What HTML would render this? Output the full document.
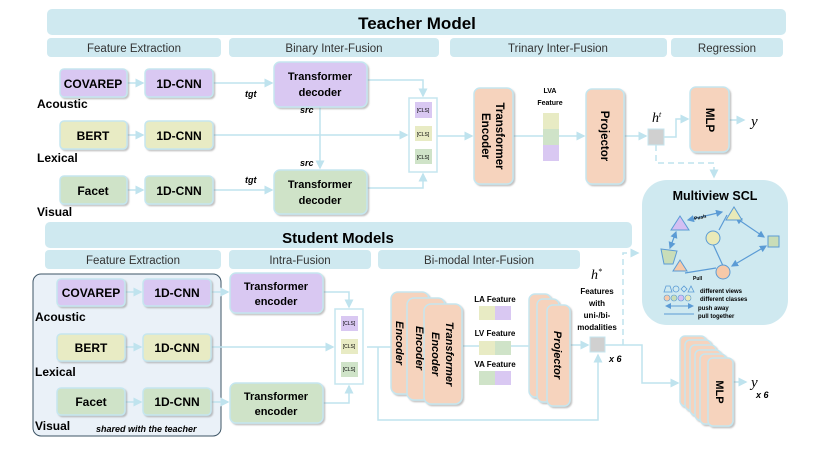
<!DOCTYPE html>
<html><head><meta charset="utf-8"><style>
body{margin:0;background:#fff}
svg{display:block;font-family:"Liberation Sans",sans-serif}
.b{font-weight:bold}
</style></head><body>
<svg width="830" height="467" viewBox="0 0 830 467" xmlns="http://www.w3.org/2000/svg">
<defs>
<marker id="a" markerWidth="6" markerHeight="6" refX="5" refY="3" orient="auto"><path d="M0,0 L6,3 L0,6z" fill="#bfe3ee"/></marker>
<marker id="ab" markerWidth="6" markerHeight="6" refX="5" refY="3" orient="auto"><path d="M0,0 L6,3 L0,6z" fill="#5b9bd5"/></marker>
<marker id="as" markerWidth="6" markerHeight="6" refX="1" refY="3" orient="auto"><path d="M6,0 L0,3 L6,6z" fill="#5b9bd5"/></marker>
<filter id="sh" x="-10%" y="-10%" width="130%" height="130%"><feDropShadow dx="1.5" dy="1.5" stdDeviation="0.8" flood-color="#888" flood-opacity="0.5"/></filter>
</defs>
<g fill="#cfe9f0">
<rect x="47" y="9" width="739" height="26" rx="5"/>
<rect x="47" y="38" width="174" height="19" rx="4"/>
<rect x="229" y="38" width="210" height="19" rx="4"/>
<rect x="450" y="38" width="217" height="19" rx="4"/>
<rect x="671" y="38" width="112" height="19" rx="4"/>
<rect x="45" y="222" width="587" height="26" rx="5"/>
<rect x="45" y="250" width="176" height="19" rx="4"/>
<rect x="229" y="250" width="142" height="19" rx="4"/>
<rect x="378" y="250" width="202" height="19" rx="4"/>
</g>
<text x="417" y="29" text-anchor="middle" font-size="17" class="b">Teacher Model</text>
<g font-size="11.5" fill="#333" text-anchor="middle">
<text x="134" y="52">Feature Extraction</text>
<text x="334" y="52">Binary Inter-Fusion</text>
<text x="558" y="52">Trinary Inter-Fusion</text>
<text x="727" y="52">Regression</text>
<text x="133" y="264">Feature Extraction</text>
<text x="300" y="264">Intra-Fusion</text>
<text x="479" y="264">Bi-modal Inter-Fusion</text>
</g>
<text x="338" y="243" text-anchor="middle" font-size="15" class="b">Student Models</text>

<g stroke="#bfe3ee" stroke-width="1.5" fill="none">
<line x1="127" y1="83" x2="143" y2="83" marker-end="url(#a)"/>
<line x1="213" y1="83" x2="272" y2="83" marker-end="url(#a)"/>
<line x1="127" y1="135" x2="143" y2="135" marker-end="url(#a)"/>
<line x1="213" y1="135" x2="407" y2="135" marker-end="url(#a)"/>
<line x1="127" y1="190" x2="143" y2="190" marker-end="url(#a)"/>
<line x1="213" y1="190" x2="272" y2="190" marker-end="url(#a)"/>
<line x1="320" y1="107" x2="320" y2="168" marker-end="url(#a)"/>
<path d="M367,80 H423 V96" marker-end="url(#a)"/>
<path d="M367,188 H423 V174" marker-end="url(#a)"/>
<line x1="437" y1="136" x2="472" y2="136" marker-end="url(#a)"/>
<line x1="513" y1="136" x2="543" y2="136"/>
<line x1="559" y1="136" x2="584" y2="136" marker-end="url(#a)"/>
<line x1="624" y1="136" x2="646" y2="136" marker-end="url(#a)"/>
<path d="M664,137 H676 V119 H688" marker-end="url(#a)"/>
<line x1="729" y1="120" x2="744" y2="120" marker-end="url(#a)"/>
<path d="M656,145 V163 H714 V177" stroke-dasharray="6,4" marker-end="url(#a)"/>
</g>
<g stroke="#c5e6ef" stroke-width="1.5" filter="url(#sh)">
<rect x="60" y="69" width="67" height="28" rx="4" fill="#d9c8f2"/>
<rect x="145" y="69" width="68" height="28" rx="4" fill="#d9c8f2"/>
<rect x="274" y="62" width="93" height="45" rx="6" fill="#d9c8f2"/>
<rect x="60" y="121" width="67" height="28" rx="4" fill="#e8ebc4"/>
<rect x="145" y="121" width="68" height="28" rx="4" fill="#e8ebc4"/>
<rect x="60" y="176" width="67" height="28" rx="4" fill="#cfe3c8"/>
<rect x="145" y="176" width="68" height="28" rx="4" fill="#cfe3c8"/>
<rect x="274" y="170" width="93" height="44" rx="6" fill="#cfe3c8"/>
<rect x="474" y="88" width="39" height="96" rx="6" fill="#f6d3bd"/>
<rect x="586" y="89" width="38" height="95" rx="6" fill="#f6d3bd"/>
<rect x="690" y="87" width="39" height="65" rx="6" fill="#f6d3bd"/>
</g>
<rect x="409" y="98" width="28" height="74" fill="#fff" stroke="#c5e6ef" stroke-width="1.5"/>
<rect x="415" y="102" width="17" height="16" fill="#d9c8f2"/>
<rect x="415" y="126" width="17" height="15" fill="#e8ebc4"/>
<rect x="415" y="149" width="17" height="15" fill="#cfe3c8"/>
<rect x="543" y="113" width="16" height="16" fill="#e8ebc4"/>
<rect x="543" y="129" width="16" height="16" fill="#cfe3c8"/>
<rect x="543" y="145" width="16" height="16" fill="#d9c8f2"/>
<rect x="648" y="129" width="16" height="16" fill="#d0d0d0" stroke="#c5e6ef"/>
<g font-size="5" text-anchor="middle"><text x="423" y="112">[CLS]</text><text x="423" y="136">[CLS]</text><text x="423" y="159">[CLS]</text></g>
<g class="b" font-size="12" text-anchor="middle">
<text x="93" y="88">COVAREP</text><text x="179" y="88">1D-CNN</text>
<text x="93" y="140">BERT</text><text x="179" y="140">1D-CNN</text>
<text x="93" y="195">Facet</text><text x="179" y="195">1D-CNN</text>
<text x="320" y="80" font-size="11">Transformer</text><text x="320" y="96" font-size="11">decoder</text>
<text x="320" y="188" font-size="11">Transformer</text><text x="320" y="204" font-size="11">decoder</text>
</g>
<g class="b" font-size="12"><text x="37" y="108">Acoustic</text><text x="37" y="162">Lexical</text><text x="37" y="216">Visual</text></g>
<g font-size="9" font-style="italic" class="b"><text x="245" y="97">tgt</text><text x="245" y="183">tgt</text><text x="300" y="113">src</text><text x="300" y="166">src</text></g>
<g class="b" font-size="11.5" text-anchor="middle">
<text transform="translate(494,136) rotate(90)" y="-2">Transformer</text>
<text transform="translate(494,136) rotate(90)" y="12">Encoder</text>
<text transform="translate(605,136) rotate(90)" y="4">Projector</text>
<text transform="translate(710,120) rotate(90)" y="4">MLP</text>
</g>
<text x="550" y="93" font-size="7" class="b" text-anchor="middle">LVA</text>
<text x="550" y="105" font-size="7" class="b" text-anchor="middle">Feature</text>
<text x="652" y="122" font-family="Liberation Serif" font-style="italic" font-size="14">h<tspan font-size="8" dy="-5">t</tspan></text>
<text x="751" y="126" font-family="Liberation Serif" font-style="italic" font-size="15">y</text>

<rect x="642" y="180" width="146" height="145" rx="25" fill="#cfe9f0"/>
<text x="715" y="200" text-anchor="middle" class="b" font-size="12.5">Multiview SCL</text>
<g stroke="#5b9bd5" stroke-width="1.2" fill="none">
<line x1="688" y1="220" x2="722" y2="212" marker-end="url(#ab)" marker-start="url(#as)"/>
<line x1="676" y1="232" x2="670" y2="248" marker-end="url(#ab)" marker-start="url(#as)"/>
<line x1="736" y1="218" x2="764" y2="237" marker-end="url(#ab)" marker-start="url(#as)"/>
<line x1="766" y1="246" x2="732" y2="266" marker-end="url(#ab)" marker-start="url(#as)"/>
<line x1="719" y1="230" x2="727" y2="215"/>
<line x1="713" y1="244" x2="724" y2="268"/>
<line x1="685" y1="273" x2="716" y2="268"/>
</g>
<path d="M671,230 L680,216 L689,230z" fill="#d4bff2" stroke="#5b9bd5"/>
<path d="M726,220 L734,207 L742,220z" fill="#eaeab8" stroke="#5b9bd5"/>
<path d="M661,249 L677,251 L673,264 L664,264z" fill="#c9ddb8" stroke="#5b9bd5"/>
<circle cx="713" cy="238" r="7" fill="#eaeab8" stroke="#5b9bd5"/>
<rect x="768" y="236" width="11" height="11" fill="#c9ddb8" stroke="#5b9bd5"/>
<path d="M673,271 L680,260 L687,271z" fill="#f7c9a9" stroke="#5b9bd5"/>
<circle cx="723" cy="272" r="7" fill="#f7c9a9" stroke="#5b9bd5"/>
<text x="694" y="219" font-size="5" class="b" transform="rotate(-12 700 217)">Push</text>
<text x="693" y="280" font-size="5" class="b">Pull</text>
<g stroke="#5b9bd5" fill="none" stroke-width="0.8">
<path d="M664,292 L666,286 L670,286 L672,292z"/><circle cx="676" cy="289" r="3"/><path d="M681,289 L684,286 L687,289 L684,292z"/><path d="M688,292 L691,286 L694,292z"/>
</g>
<circle cx="667" cy="298" r="3" fill="#f7c9a9" stroke="#5b9bd5" stroke-width=".6"/><circle cx="674" cy="298" r="3" fill="#c9ddb8" stroke="#5b9bd5" stroke-width=".6"/><circle cx="681" cy="298" r="3" fill="#d4bff2" stroke="#5b9bd5" stroke-width=".6"/><circle cx="688" cy="298" r="3" fill="#eaeab8" stroke="#5b9bd5" stroke-width=".6"/>
<line x1="666" y1="306" x2="693" y2="306" stroke="#5b9bd5" marker-end="url(#ab)" marker-start="url(#as)"/>
<line x1="664" y1="314" x2="694" y2="314" stroke="#5b9bd5"/>
<g font-size="6" class="b"><text x="700" y="293">different views</text><text x="700" y="301">different classes</text><text x="698" y="310">push away</text><text x="698" y="318">pull together</text></g>

<rect x="33" y="274" width="188" height="162" rx="8" fill="#eaf1f8" stroke="#3d5566" stroke-width="1"/>
<g stroke="#bfe3ee" stroke-width="1.5" fill="none">
<line x1="125" y1="292" x2="141" y2="292" marker-end="url(#a)"/>
<line x1="211" y1="292" x2="228" y2="292" marker-end="url(#a)"/>
<line x1="125" y1="347" x2="141" y2="347" marker-end="url(#a)"/>
<line x1="211" y1="347" x2="333" y2="347" marker-end="url(#a)"/>
<line x1="125" y1="402" x2="141" y2="402" marker-end="url(#a)"/>
<line x1="211" y1="402" x2="228" y2="402" marker-end="url(#a)"/>
<path d="M323,292 H349 V307" marker-end="url(#a)"/>
<path d="M323,403 H349 V386" marker-end="url(#a)"/>
<path d="M367,347 H391"/>
<path d="M378,347 V420 H598 V355" marker-end="url(#a)"/>
<line x1="463" y1="346" x2="479" y2="346"/>
<line x1="511" y1="346" x2="529" y2="346"/>
<line x1="570" y1="345" x2="588" y2="345" marker-end="url(#a)"/>
<path d="M605,345 H642 V383 H678" marker-end="url(#a)"/>
<path d="M623,345 V253 H638" stroke-dasharray="6,4" marker-end="url(#a)"/>
<line x1="733" y1="382" x2="746" y2="382" marker-end="url(#a)"/>
</g>
<g stroke="#c5e6ef" stroke-width="1.5" filter="url(#sh)">
<rect x="57" y="279" width="68" height="27" rx="4" fill="#d9c8f2"/>
<rect x="143" y="279" width="68" height="27" rx="4" fill="#d9c8f2"/>
<rect x="57" y="334" width="68" height="27" rx="4" fill="#e8ebc4"/>
<rect x="143" y="334" width="68" height="27" rx="4" fill="#e8ebc4"/>
<rect x="57" y="388" width="68" height="27" rx="4" fill="#cfe3c8"/>
<rect x="143" y="388" width="68" height="27" rx="4" fill="#cfe3c8"/>
<rect x="230" y="273" width="93" height="40" rx="6" fill="#d9c8f2"/>
<rect x="230" y="383" width="93" height="40" rx="6" fill="#cfe3c8"/>
<rect x="391" y="292" width="38" height="102" rx="7" fill="#f6d3bd"/>
<rect x="407" y="298" width="38" height="102" rx="7" fill="#f6d3bd"/>
<rect x="424" y="304" width="38" height="100" rx="7" fill="#f6d3bd"/>
<rect x="529" y="294" width="22" height="103" rx="6" fill="#f6d3bd"/>
<rect x="537" y="299" width="22" height="103" rx="6" fill="#f6d3bd"/>
<rect x="547" y="305" width="23" height="101" rx="6" fill="#f6d3bd"/>
<rect x="680" y="336" width="26" height="70" rx="5" fill="#f6d3bd"/>
<rect x="685" y="340" width="26" height="70" rx="5" fill="#f6d3bd"/>
<rect x="690" y="345" width="26" height="70" rx="5" fill="#f6d3bd"/>
<rect x="695" y="350" width="26" height="70" rx="5" fill="#f6d3bd"/>
<rect x="700" y="354" width="26" height="70" rx="5" fill="#f6d3bd"/>
<rect x="708" y="358" width="25" height="68" rx="5" fill="#f6d3bd"/>
</g>
<rect x="335" y="309" width="28" height="75" fill="#fff" stroke="#c5e6ef" stroke-width="1.5"/>
<rect x="590" y="337" width="15" height="15" fill="#d0d0d0" stroke="#c5e6ef"/>
<rect x="341" y="316" width="17" height="15" fill="#d9c8f2"/>
<rect x="341" y="339" width="17" height="15" fill="#e8ebc4"/>
<rect x="341" y="362" width="17" height="15" fill="#cfe3c8"/>
<g font-size="5" text-anchor="middle"><text x="349" y="325">[CLS]</text><text x="349" y="348">[CLS]</text><text x="349" y="371">[CLS]</text></g>
<rect x="479" y="306" width="16" height="14" fill="#e8ebc4"/><rect x="495" y="306" width="16" height="14" fill="#d9c8f2"/>
<rect x="479" y="341" width="16" height="14" fill="#e8ebc4"/><rect x="495" y="341" width="16" height="14" fill="#cfe3c8"/>
<rect x="479" y="371" width="16" height="14" fill="#cfe3c8"/><rect x="495" y="371" width="16" height="14" fill="#d9c8f2"/>
<g class="b" font-size="8" text-anchor="middle"><text x="495" y="302">LA Feature</text><text x="495" y="336">LV Feature</text><text x="495" y="367">VA Feature</text>
<text x="597" y="294">Features</text><text x="597" y="306">with</text><text x="597" y="318">uni-/bi-</text><text x="597" y="330">modalities</text></g>
<g class="b" font-size="12" text-anchor="middle">
<text x="91" y="297">COVAREP</text><text x="177" y="297">1D-CNN</text>
<text x="91" y="352">BERT</text><text x="177" y="352">1D-CNN</text>
<text x="91" y="406">Facet</text><text x="177" y="406">1D-CNN</text>
<text x="276" y="290" font-size="11">Transformer</text><text x="276" y="305" font-size="11">encoder</text>
<text x="276" y="400" font-size="11">Transformer</text><text x="276" y="415" font-size="11">encoder</text>
</g>
<g class="b" font-size="12"><text x="35" y="321">Acoustic</text><text x="35" y="376">Lexical</text><text x="35" y="430">Visual</text></g>
<text x="96" y="432" font-size="9" font-style="italic" class="b">shared with the teacher</text>
<g class="b" font-size="11" font-style="italic" text-anchor="middle">
<text transform="translate(400,343) rotate(90)" y="4">Encoder</text>
<text transform="translate(420,348) rotate(90)" y="4">Encoder</text>
<text transform="translate(443,354) rotate(90)" y="-3">Transformer</text>
<text transform="translate(443,354) rotate(90)" y="11">Encoder</text>
<text transform="translate(558,355) rotate(90)" y="4">Projector</text>
<text transform="translate(720,392) rotate(90)" y="4" font-style="normal">MLP</text>
</g>
<text x="591" y="279" font-family="Liberation Serif" font-style="italic" font-size="14">h<tspan font-size="8" dy="-5">*</tspan></text>
<text x="609" y="362" font-size="9" font-style="italic" class="b">x 6</text>
<text x="751" y="387" font-family="Liberation Serif" font-style="italic" font-size="15">y</text>
<text x="756" y="398" font-size="9" font-style="italic" class="b">x 6</text>
</svg>
</body></html>
